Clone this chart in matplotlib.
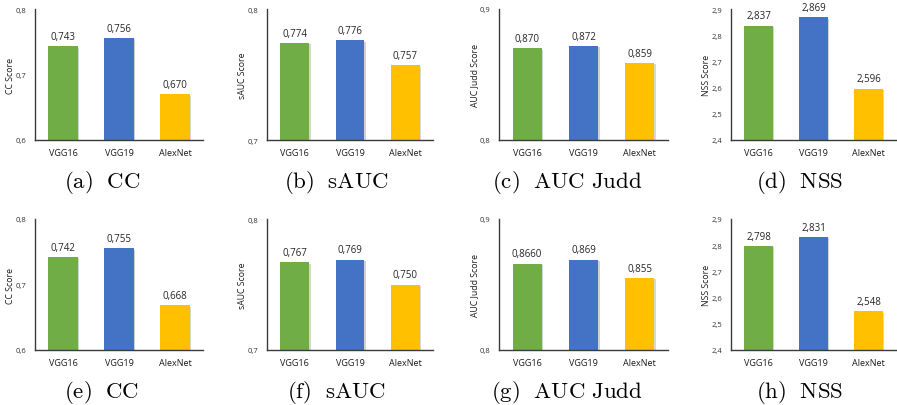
import numpy as np
import matplotlib
matplotlib.use('Agg')
import matplotlib.pyplot as plt
import matplotlib.patheffects as pe

plt.rcParams['font.family'] = ['Open Sans', 'DejaVu Sans']
plt.rcParams['mathtext.fontset'] = 'cm'

models = ['VGG16', 'VGG19', 'AlexNet']
colors = ['#70AD47', '#4472C4', '#FFC000']

# row 1
cc_1 = [0.743, 0.756, 0.670]
sauc_1 = [0.774, 0.776, 0.757]
judd_1 = [0.870, 0.872, 0.859]
nss_1 = [2.837, 2.869, 2.596]
# row 2
cc_2 = [0.742, 0.755, 0.668]
sauc_2 = [0.767, 0.769, 0.750]
judd_2 = [0.866, 0.869, 0.855]
nss_2 = [2.798, 2.831, 2.548]
judd_2_text = ['0,8660', '0,869', '0,855']

metrics = ['CC', 'sAUC', 'AUC Judd', 'NSS']
ylims = [(0.6, 0.8), (0.7, 0.8), (0.8, 0.9), (2.4, 2.9)]
yticks = [[0.6, 0.7, 0.8], [0.7, 0.8], [0.8, 0.9], [2.4, 2.5, 2.6, 2.7, 2.8, 2.9]]
rows = [[cc_1, sauc_1, judd_1, nss_1], [cc_2, sauc_2, judd_2, nss_2]]
letters = 'abcdefgh'

W, H = 897, 406
fig = plt.figure(figsize=(W / 100, H / 100), dpi=100)

lefts = [35, 267, 499, 731]
rights = [203, 433, 668, 896]
tops = [10, 220]
bottoms = [141, 351]
cap_x = [102, 336, 567, 800]
cap_y = [183, 393]

def fmt(v):
	return ('%.3f' % v).replace('.', ',')

for r in range(2):
	for c in range(4):
		vals = rows[r][c]
		wpx = rights[c] - lefts[c]
		ax = fig.add_axes([lefts[c] / W, 1 - bottoms[r] / H,
			wpx / W, (bottoms[r] - tops[r]) / H])
		x = np.arange(len(models))
		bars = ax.bar(x, vals, width=0.52, color=colors, zorder=2)
		for b in bars:
			b.set_path_effects([pe.SimplePatchShadow(offset=(1.2, -1), alpha=0.2), pe.Normal()])
		texts = judd_2_text if (r == 1 and c == 2) else [fmt(v) for v in vals]
		for xi, v, t in zip(x, vals, texts):
			ax.annotate(t, (xi, v), xytext=(0, 3), textcoords='offset points',
				ha='center', va='bottom', fontsize=7, color='#262626')
		ax.set_xlim(-0.5, 2.5)
		ax.set_ylim(*ylims[c])
		ax.set_yticks(yticks[c])
		ax.set_yticklabels([('%.1f' % t).replace('.', ',') for t in yticks[c]])
		ax.set_xticks(x)
		ax.set_xticklabels(models)
		ax.tick_params(axis='y', length=0, pad=6, labelsize=5.5, labelcolor='#333333')
		ax.tick_params(axis='x', length=0, pad=6, labelsize=6.5, labelcolor='#1a1a1a')
		ax.set_ylabel(metrics[c] + ' Score', fontsize=6.3, color='#1a1a1a')
		ax.yaxis.set_label_coords(-20 / wpx, 0.5)
		for s in ['top', 'right']:
			ax.spines[s].set_visible(False)
		for s in ['left', 'bottom']:
			ax.spines[s].set_color('#3a3a3a')
			ax.spines[s].set_linewidth(1.0)
		ax.set_facecolor('none')
		letter = letters[r * 4 + c]
		cap = r'$\mathrm{(' + letter + r')\ \ ' + metrics[c].replace(' ', r'\ ') + '}$'
		fig.text(cap_x[c] / W, 1 - cap_y[r] / H, cap, ha='center', va='center', fontsize=16.5)

fig.savefig('out.png', dpi=100)
